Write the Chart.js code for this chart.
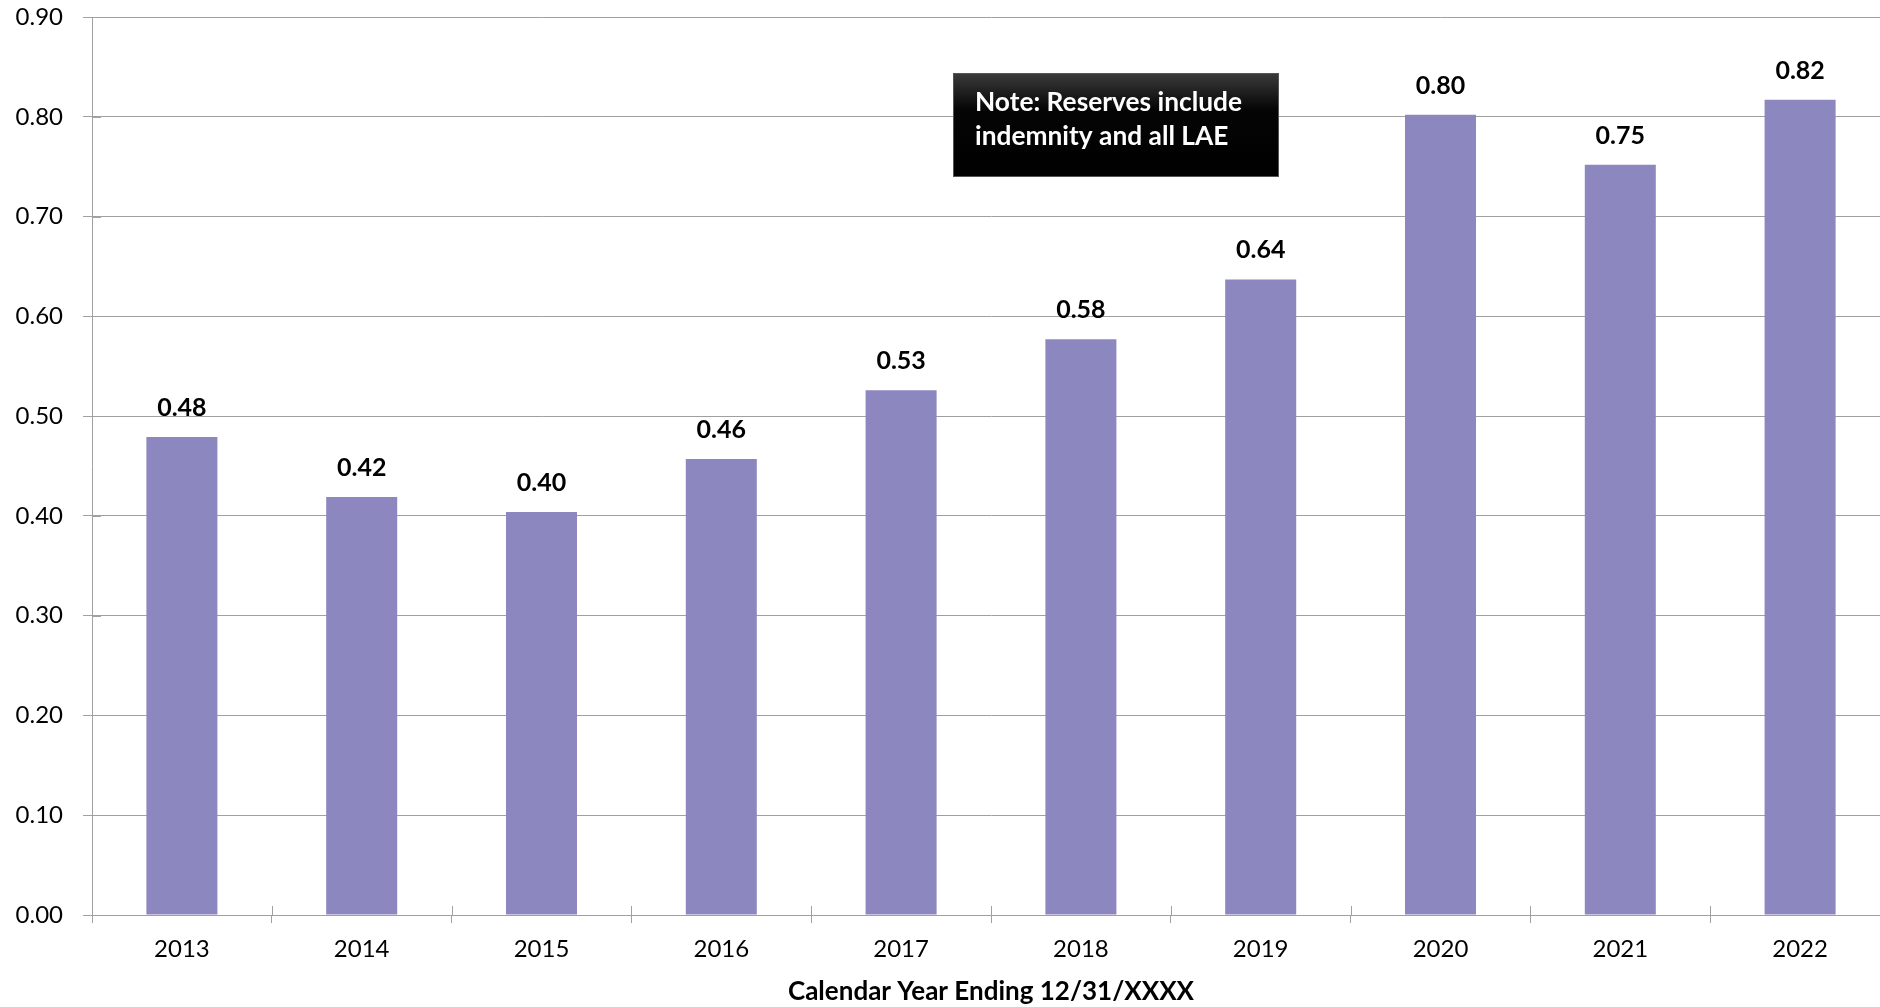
<!DOCTYPE html>
<html>
<head>
<meta charset="utf-8">
<title>Reserves by Calendar Year</title>
<script src="https://cdn.jsdelivr.net/npm/chart.js@4/dist/chart.umd.min.js"></script>
<style>
  html, body { margin: 0; padding: 0; background: #fff; overflow: hidden; }
  #wrap { width: 1880px; height: 1007px; overflow: hidden; position: relative; }
  canvas { position: absolute; left: 0; top: 0; }
</style>
</head>
<body>
<div id="wrap"><canvas id="grafico" width="1900" height="1007"></canvas></div>
<script>
const years = ['2013', '2014', '2015', '2016', '2017', '2018', '2019', '2020', '2021', '2022'];
const reserves = [0.479, 0.419, 0.404, 0.457, 0.526, 0.577, 0.637, 0.802, 0.752, 0.817];
const yTicks = [0, 0.1, 0.2, 0.3, 0.4, 0.5, 0.6, 0.7, 0.8, 0.9];
const noteLines = ['Note: Reserves include', 'indemnity and all LAE'];
const xTitle = 'Calendar Year Ending 12/31/XXXX';

const FONT = 'Lato, "Open Sans", sans-serif';
const GRID = '#a0a0a0';

// value labels above each bar
const barLabels = {
    id: 'barLabels',
    afterDatasetsDraw(chart) {
        const ctx = chart.ctx;
        const meta = chart.getDatasetMeta(0);
        ctx.save();
        ctx.font = 'bold 25px ' + FONT;
        ctx.fillStyle = '#000';
        ctx.textAlign = 'center';
        ctx.textBaseline = 'middle';
        meta.data.forEach((bar, i) => {
            ctx.fillText(reserves[i].toFixed(2), bar.x, bar.y - 29);
        });
        ctx.restore();
    }
};

// tick marks that cross the axis lines
const crossTicks = {
    id: 'crossTicks',
    afterDraw(chart) {
        const ctx = chart.ctx;
        const x = chart.scales.x, y = chart.scales.y;
        const half = (x.getPixelForValue(1) - x.getPixelForValue(0)) / 2;
        ctx.save();
        ctx.strokeStyle = GRID;
        ctx.lineWidth = 1;
        ctx.beginPath();
        yTicks.forEach(v => {
            const py = Math.round(y.getPixelForValue(v)) + 0.5;
            ctx.moveTo(x.left, py);
            ctx.lineTo(x.left + 9, py);
        });
        for (let i = 1; i < years.length; i++) {
            const px = Math.round(x.getPixelForValue(i) - half) + 0.5;
            ctx.moveTo(px, y.bottom);
            ctx.lineTo(px, y.bottom - 9);
        }
        ctx.stroke();
        ctx.restore();
    }
};

// black note box
const noteBox = {
    id: 'noteBox',
    afterDraw(chart) {
        const ctx = chart.ctx;
        const bx = 953, by = 73, bw = 326, bh = 104;
        ctx.save();
        const g = ctx.createLinearGradient(0, by, 0, by + bh);
        g.addColorStop(0, '#3c3c3c');
        g.addColorStop(0.35, '#050505');
        g.addColorStop(1, '#000');
        ctx.fillStyle = g;
        ctx.fillRect(bx, by, bw, bh);
        ctx.strokeStyle = '#555';
        ctx.lineWidth = 1;
        ctx.strokeRect(bx + 0.5, by + 0.5, bw - 1, bh - 1);
        ctx.font = 'bold 26.3px ' + FONT;
        ctx.fillStyle = '#fff';
        ctx.textAlign = 'left';
        ctx.textBaseline = 'alphabetic';
        ctx.fillText(noteLines[0], bx + 22, by + 38);
        ctx.fillText(noteLines[1], bx + 22, by + 72);
        ctx.restore();
    }
};

const ctx = document.getElementById('grafico').getContext('2d');
new Chart(ctx, {
    type: 'bar',
    data: {
        labels: years,
        datasets: [{
            data: reserves,
            backgroundColor: '#8d87c0',
            borderWidth: 0,
            categoryPercentage: 1,
            barPercentage: 0.395
        }]
    },
    options: {
        responsive: false,
        animation: false,
        devicePixelRatio: 1,
        layout: { padding: { top: 17, right: 10, left: 0, bottom: 0 } },
        plugins: {
            legend: { display: false },
            tooltip: { enabled: false }
        },
        scales: {
            x: {
                offset: true,
                grid: {
                    display: true,
                    drawOnChartArea: false,
                    offset: true,
                    color: GRID,
                    tickLength: 8
                },
                border: { color: GRID, width: 1 },
                ticks: {
                    color: '#000',
                    font: { family: FONT, size: 24 },
                    padding: 12,
                    maxRotation: 0
                },
                title: {
                    display: true,
                    text: xTitle,
                    color: '#000',
                    font: { family: FONT, size: 26, weight: 'bold' },
                    padding: 0
                },
                afterFit(scale) { scale.height = 92; }
            },
            y: {
                min: 0,
                max: 0.9,
                afterBuildTicks(scale) { scale.ticks = yTicks.map(v => ({ value: v })); },
                grid: {
                    color: GRID,
                    lineWidth: 1,
                    tickLength: 9
                },
                border: { color: GRID, width: 1 },
                ticks: {
                    color: '#000',
                    font: { family: FONT, size: 24 },
                    padding: 20,
                    callback: v => Number(v).toFixed(2)
                },
                afterFit(scale) {
                    scale.width = 92;
                    scale.paddingTop = 0;
                    scale.paddingBottom = 0;
                }
            }
        }
    },
    plugins: [barLabels, crossTicks, noteBox]
});
</script>
</body>
</html>
